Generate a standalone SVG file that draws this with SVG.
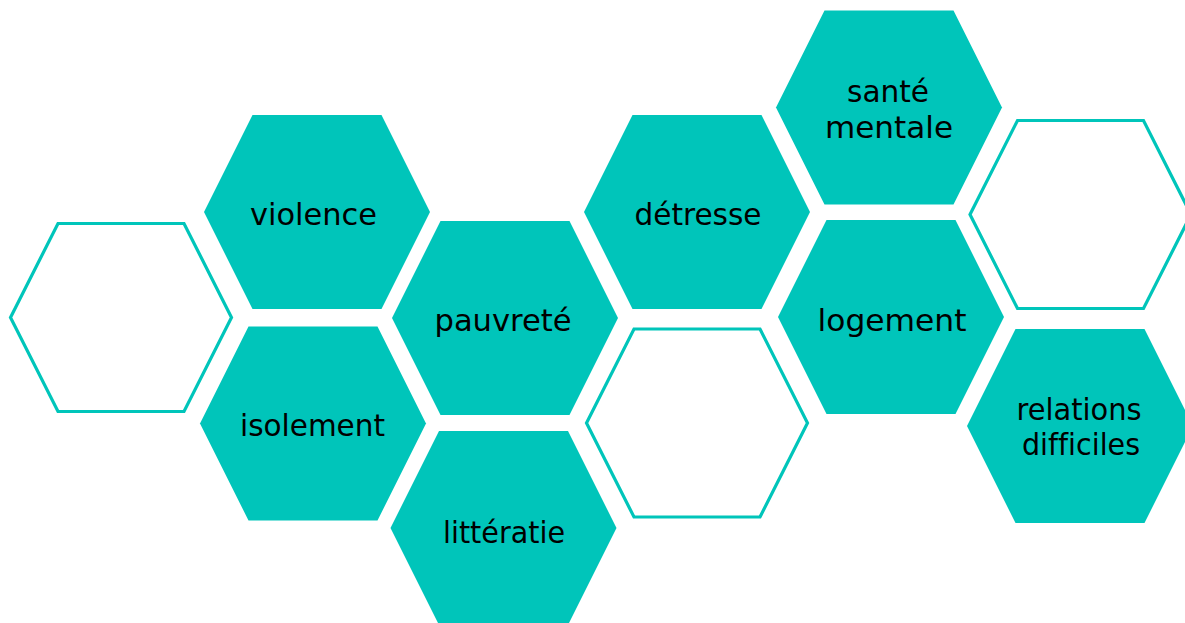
<svg xmlns="http://www.w3.org/2000/svg" xmlns:xlink="http://www.w3.org/1999/xlink" width="1185" height="623" viewBox="0 0 1185 623">
<style>
.hexf{fill:#00C5BA;stroke:none}
.hexo{fill:#FFFFFF;stroke:#00C5BA;stroke-width:3.2;stroke-linejoin:miter}
.lbl{font-family:"DejaVu Sans","Liberation Sans",sans-serif;font-size:31px;fill:#000000;text-anchor:middle;font-variant-ligatures:none}
</style>
<defs>
<polygon id="hf" points="-64.5,-97 64.5,-97 113,0 64.5,97 -64.5,97 -113,0"/>
<polygon id="ho" points="-63,-94 63,-94 110.5,0 63,94 -63,94 -110.5,0"/>
</defs>
<rect width="1185" height="623" fill="#FFFFFF"/>
<g id="empty1"><use xlink:href="#ho" class="hexo" x="121" y="317.5"/></g>
<g id="violence"><use xlink:href="#hf" class="hexf" x="317" y="212"/><text class="lbl" x="313.5" y="225" textLength="127" lengthAdjust="spacingAndGlyphs">violence</text></g>
<g id="isolement"><use xlink:href="#hf" class="hexf" x="313" y="423.5"/><text class="lbl" x="312.5" y="436" textLength="145" lengthAdjust="spacingAndGlyphs">isolement</text></g>
<g id="pauvrete"><use xlink:href="#hf" class="hexf" x="505" y="318"/><text class="lbl" x="503" y="331" textLength="137" lengthAdjust="spacingAndGlyphs">pauvreté</text></g>
<g id="litteratie"><use xlink:href="#hf" class="hexf" x="503.5" y="528"/><text class="lbl" x="504" y="543" textLength="122" lengthAdjust="spacingAndGlyphs">littératie</text></g>
<g id="detresse"><use xlink:href="#hf" class="hexf" x="697" y="212"/><text class="lbl" x="698" y="225" textLength="127" lengthAdjust="spacingAndGlyphs">détresse</text></g>
<g id="empty2"><use xlink:href="#ho" class="hexo" x="697" y="423"/></g>
<g id="sante-mentale"><use xlink:href="#hf" class="hexf" x="889" y="107.5"/><text class="lbl" x="888" y="101.5" textLength="82" lengthAdjust="spacingAndGlyphs">santé</text><text class="lbl" x="889" y="138" textLength="128" lengthAdjust="spacingAndGlyphs">mentale</text></g>
<g id="logement"><use xlink:href="#hf" class="hexf" x="891" y="317"/><text class="lbl" x="892" y="331" textLength="149" lengthAdjust="spacingAndGlyphs">logement</text></g>
<g id="empty3"><use xlink:href="#ho" class="hexo" x="1080.5" y="214.5"/></g>
<g id="relations-difficiles"><use xlink:href="#hf" class="hexf" x="1080" y="426"/><text class="lbl" x="1079" y="420" textLength="125" lengthAdjust="spacingAndGlyphs">relations</text><text class="lbl" x="1081" y="455" textLength="118" lengthAdjust="spacingAndGlyphs">difficiles</text></g>
<g id="connectors"></g>
</svg>
